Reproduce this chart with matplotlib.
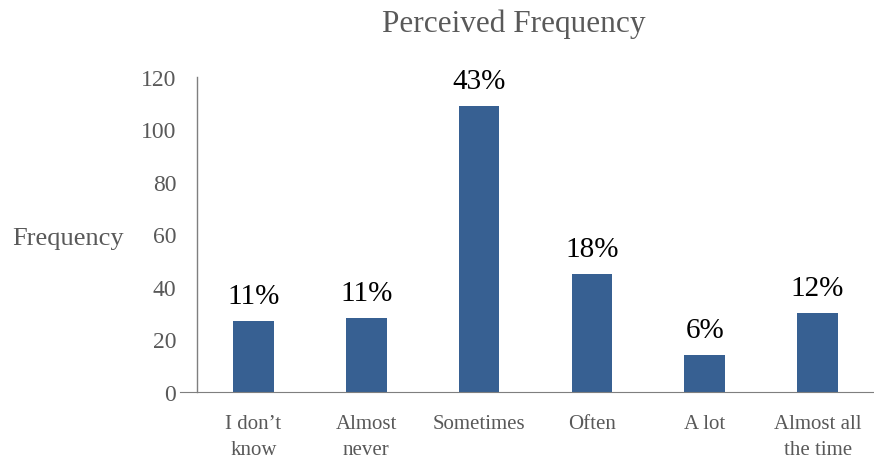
import matplotlib
matplotlib.use("Agg")
import matplotlib.pyplot as plt

categories = ["I don\u2019t\nknow", "Almost\nnever", "Sometimes", "Often", "A lot", "Almost all\nthe time"]
counts = [27, 28, 109, 45, 14, 30]
percents = ["11%", "11%", "43%", "18%", "6%", "12%"]
yticks = [0, 20, 40, 60, 80, 100, 120]

plt.rcParams["font.family"] = ["Liberation Serif", "DejaVu Serif"]
grey = "#595959"

fig = plt.figure(figsize=(8.74, 4.64), dpi=100)
ax = fig.add_axes([0.2254, 0.153, 0.7746, 0.679])

x = list(range(len(categories)))
bars = ax.bar(x, counts, width=0.36, color="#376092")

for xi, c, p in zip(x, counts, percents):
    ax.annotate(p, (xi, c), xytext=(0, 18), textcoords="offset points",
                ha="center", va="center", fontsize=21, color="black")

ax.set_xlim(-0.5, 5.5)
ax.set_ylim(0, 120)
ax.set_yticks(yticks)
ax.set_xticks(x)
ax.set_xticklabels(categories, fontsize=15, color=grey, linespacing=1.45)
ax.tick_params(axis="y", length=0, pad=15, labelsize=17, labelcolor=grey)
ax.tick_params(axis="x", length=0, pad=16)

for s in ["top", "right"]:
    ax.spines[s].set_visible(False)
ax.spines["left"].set_color("#7f7f7f")
ax.spines["bottom"].set_color("#7f7f7f")
ax.spines["bottom"].set_bounds(-0.65, 5.5)
ax.spines["left"].set_linewidth(1.0)

ax.set_ylabel("Frequency", rotation=0, fontsize=19, color=grey, ha="center", va="center")
ax.yaxis.set_label_coords(-0.19, 0.49)
fig.text(0.588, 0.948, "Perceived Frequency", ha="center", va="center", fontsize=22.5, color=grey)

fig.savefig("out.png", dpi=100)
